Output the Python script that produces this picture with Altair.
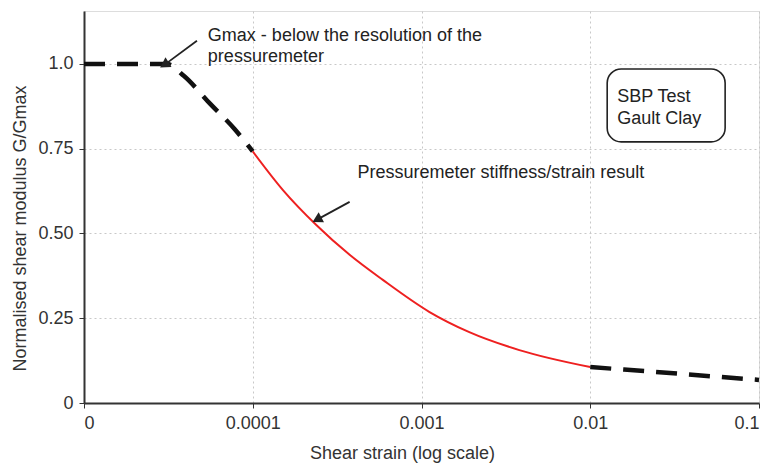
import altair as alt
import pandas as pd

# --- data ---
dash1_x = [1e-5, 3.1e-5, 3.9e-5, 5.6e-5, 7.8e-5, 1e-4]
dash1_y = [1.0, 1.0, 0.965, 0.882, 0.808, 0.742]

red_x = [1e-4, 1.51e-4, 2.38e-4, 3.75e-4, 5.9e-4, 1.11e-3, 1.92e-3, 3.8e-3, 1e-2]
red_y = [0.742, 0.628, 0.525, 0.437, 0.363, 0.269, 0.209, 0.156, 0.106]

dash2_x = [1e-2, 3.4e-2, 1e-1]
dash2_y = [0.106, 0.086, 0.068]

x_ticks = [1e-5, 1e-4, 1e-3, 1e-2, 1e-1]
x_tick_labels = ["0", "0.0001", "0.001", "0.01", "0.1"]
y_ticks = [0, 0.25, 0.5, 0.75, 1.0]
y_tick_labels = ["0", "0.25", "0.50", "0.75", "1.0"]

note_text = ["Gmax - below the resolution of the", "pressuremeter",
             "Pressuremeter stiffness/strain result", "SBP Test", "Gault Clay"]
note_x = [5.42e-5, 5.42e-5, 4.18e-4, 0.01445, 0.01445]
note_y = [1.083, 1.021, 0.678, 0.903, 0.838]

arrow_x = [4.67e-5, 3.75e-4]
arrow_y = [1.068, 0.593]
arrow_x2 = [3.05e-5, 2.45e-4]
arrow_y2 = [1.0, 0.543]
arrow_angle = [238, 242]

box_x = [0.0126]
box_x2 = [0.063]
box_y = [0.985]
box_y2 = [0.770]

FONT = "Liberation Sans"
FS = 18


def label_expr(values, labels, log=False):
    # pick the label of the nearest tick value
    expr = f"'{labels[-1]}'"
    for i in range(len(values) - 2, -1, -1):
        a, b = values[i], values[i + 1]
        mid = (a * b) ** 0.5 if log else (a + b) / 2
        expr = f"(datum.value <= {mid:.10g} ? '{labels[i]}' : {expr})"
    return expr


xscale = alt.Scale(type="log", domain=[1e-5, 0.1], nice=False)
yscale = alt.Scale(domain=[0, 1.156], nice=False)

common = dict(grid=True, gridColor="#c8c8c8", gridDash=[2, 3], gridWidth=1,
              domainColor="#333", domainWidth=2, tickColor="#333", tickSize=5,
              labelColor="#333", labelFont=FONT, labelFontSize=FS, labelPadding=6,
              titleFont=FONT, titleFontSize=FS, titleColor="#333", titleFontWeight="normal")

xaxis = alt.Axis(values=x_ticks, labelExpr=label_expr(x_ticks, x_tick_labels, log=True),
                 title="Shear strain (log scale)",
                 titleX=318, titleY=50, titleBaseline="middle", titleAnchor="start",
                 titleAlign="center", **common)
yaxis = alt.Axis(values=y_ticks, labelExpr=label_expr(y_ticks, y_tick_labels),
                 title="Normalised shear modulus G/Gmax",
                 titleX=-64, titleY=217, titleAngle=-90, titleBaseline="middle",
                 titleAlign="center", titleAnchor="start", **common)

d1 = pd.DataFrame({"x": dash1_x, "y": dash1_y})
dr = pd.DataFrame({"x": red_x, "y": red_y})
d2 = pd.DataFrame({"x": dash2_x, "y": dash2_y})
notes = pd.DataFrame({"t": note_text, "x": note_x, "y": note_y})
arrows = pd.DataFrame({"x": arrow_x, "y": arrow_y, "x2": arrow_x2, "y2": arrow_y2, "a": arrow_angle})
box = pd.DataFrame({"x": box_x, "x2": box_x2, "y": box_y, "y2": box_y2})

base_enc = dict(x=alt.X("x:Q", scale=xscale, axis=xaxis), y=alt.Y("y:Q", scale=yscale, axis=yaxis))

line1 = alt.Chart(d1).mark_line(color="#111", strokeWidth=4.5, strokeDash=[21, 12],
                                interpolate="monotone").encode(**base_enc)
line_red = alt.Chart(dr).mark_line(color="#ee2020", strokeWidth=2,
                                   interpolate="monotone").encode(x="x:Q", y="y:Q")
line2 = alt.Chart(d2).mark_line(color="#111", strokeWidth=4.5, strokeDash=[21, 12],
                                interpolate="monotone").encode(x="x:Q", y="y:Q")

box_mark = alt.Chart(box).mark_rect(fill="white", stroke="#222", strokeWidth=1.6,
                                    cornerRadius=14).encode(x="x:Q", x2="x2:Q", y="y:Q", y2="y2:Q")

text = alt.Chart(notes).mark_text(align="left", baseline="middle", font=FONT, fontSize=FS,
                                  color="#222").encode(x="x:Q", y="y:Q", text="t:N")

arrow_lines = alt.Chart(arrows).mark_rule(color="#222", strokeWidth=1.8).encode(
    x="x:Q", y="y:Q", x2="x2:Q", y2="y2:Q")
arrow_heads = alt.Chart(arrows).mark_point(shape="triangle", filled=True, color="#222",
                                           size=130, opacity=1).encode(
    x="x2:Q", y="y2:Q", angle=alt.Angle("a:Q", scale=None))

chart = alt.layer(line1, box_mark, line_red, line2, text, arrow_lines, arrow_heads).properties(
    width=675, height=392,
    autosize=alt.AutoSizeParams(type="none"),
    padding={"left": 76, "top": 3, "right": 12, "bottom": 62},
).configure_view(stroke="#333", strokeWidth=2).configure(background="white")

chart.save("out.html", embed_options={"renderer": "svg", "actions": False})
